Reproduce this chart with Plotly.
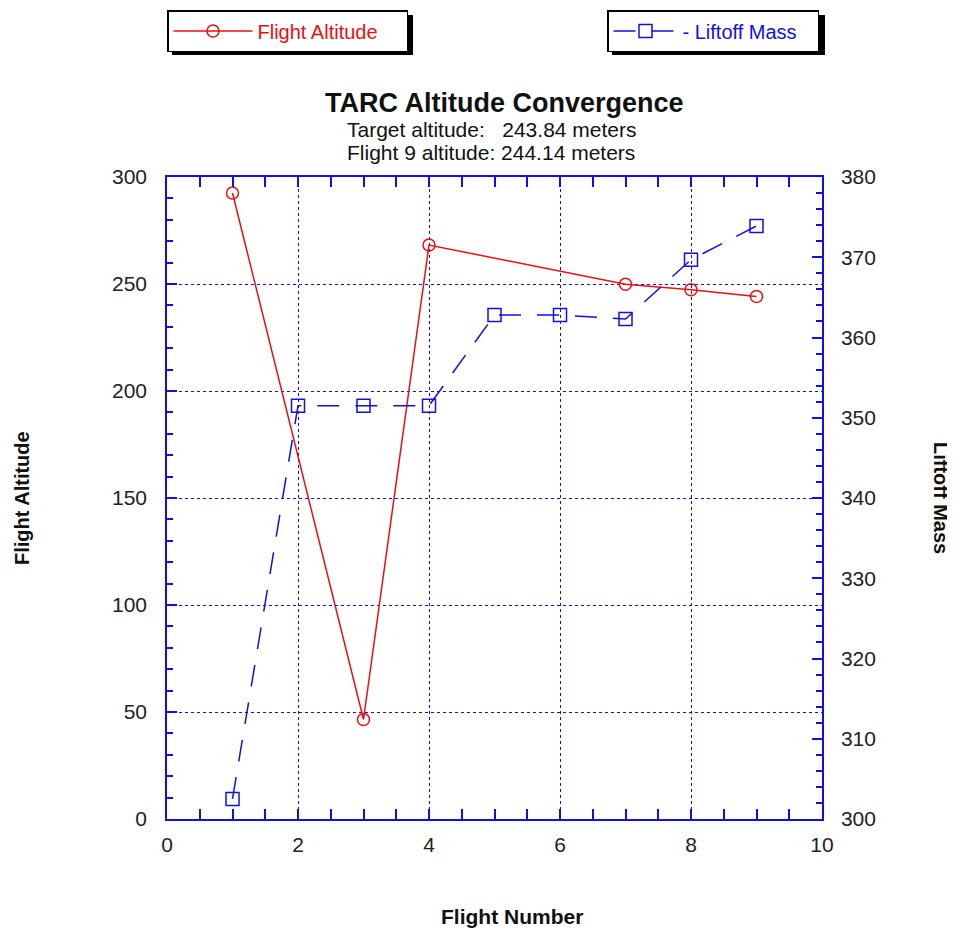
import plotly.graph_objects as go

# Data
alt_flights = [1, 3, 4, 7, 8, 9]
altitude = [292.5, 46.5, 268.2, 249.9, 247.3, 244.14]
mass_flights = [1, 2, 3, 4, 5, 6, 7, 8, 9]
liftoff_mass = [302.5, 351.5, 351.5, 351.5, 362.8, 362.8, 362.3, 369.7, 373.9]

OFF = 8  # page body margin offset
W, H = 955 - OFF, 928 - OFF
# plot area in page pixels
PL, PR, PT, PB = 167, 822, 177, 819
BLUE = "#1010e0"
RED = "#e81010"
FONT = "Liberation Sans, Arial, Helvetica, sans-serif"


def pp(x, y):
    """page pixel -> paper coords"""
    return (x - PL) / (PR - PL), (PB - y) / (PB - PT)


fig = go.Figure()
fig.add_trace(go.Scatter(
    x=alt_flights, y=altitude, name="Flight Altitude", mode="lines+markers",
    line=dict(color=RED, width=1.5),
    marker=dict(symbol="circle-open", size=12, color=RED, line=dict(width=1.5)),
    legend="legend"))
fig.add_trace(go.Scatter(
    x=mass_flights, y=liftoff_mass, name="- Liftoff Mass", mode="lines+markers",
    line=dict(color=BLUE, width=1.5, dash="22px,16px"),
    marker=dict(symbol="square-open", size=13, color=BLUE, line=dict(width=1.5)),
    yaxis="y2", legend="legend2"))

shapes = []
for (x0, y0, x1, y1) in [(167, 10, 408, 50), (607, 10, 820, 50)]:
    a0, b0 = pp(x0 + 5, y1 + 5)
    a1, b1 = pp(x1 + 5, y0 + 5)
    shapes.append(dict(type="rect", xref="paper", yref="paper", x0=a0, x1=a1, y0=b0, y1=b1,
                       fillcolor="black", line=dict(width=0), layer="above"))

tickfont = dict(family=FONT, size=21, color="#222")
minor_common = dict(ticks="inside", ticklen=6, tickcolor=BLUE, tickwidth=1.5, showgrid=False)


def annot(text, x, y, size, angle=0, bold=False, anchor="center"):
    ax, ay = pp(x, y)
    return dict(text=f"<b>{text}</b>" if bold else text, xref="paper", yref="paper",
                x=ax, y=ay, showarrow=False, textangle=angle,
                font=dict(family=FONT, size=size, color="#111"),
                xanchor=anchor, yanchor="middle")


fig.update_layout(
    width=W, height=H,
    margin=dict(l=PL - OFF, r=W - (PR - OFF), t=PT - OFF, b=H - (PB - OFF), pad=0),
    paper_bgcolor="white", plot_bgcolor="white",
    showlegend=True,
    font=dict(family=FONT),
    xaxis=dict(range=[0, 10], dtick=2, tick0=0, showline=True, linecolor=BLUE, linewidth=1.5,
               mirror="allticks", ticks="inside", ticklen=10, tickcolor=BLUE, tickwidth=1.5,
               showgrid=True, gridcolor=BLUE, griddash="dot", gridwidth=1,
               zeroline=False, tickfont=tickfont, ticklabelstandoff=6,
               minor=dict(dtick=0.5, **minor_common)),
    yaxis=dict(range=[0, 300], dtick=50, tick0=0, showline=True, linecolor=BLUE, linewidth=1.5,
               mirror=False, ticks="inside", ticklen=10, tickcolor=BLUE, tickwidth=1.5,
               showgrid=True, gridcolor=BLUE, griddash="dot", gridwidth=1,
               zeroline=False, tickfont=tickfont, ticklabelstandoff=14,
               minor=dict(dtick=10, **minor_common)),
    yaxis2=dict(range=[300, 380], dtick=10, tick0=300, overlaying="y", side="right",
                showline=True, linecolor=BLUE, linewidth=1.5,
                ticks="inside", ticklen=10, tickcolor=BLUE, tickwidth=1.5,
                showgrid=False, zeroline=False, tickfont=tickfont, ticklabelstandoff=13,
                minor=dict(dtick=2, **minor_common)),
    legend=dict(xref="container", yref="container", x=(167 - OFF) / W, y=1 - (10 - OFF) / H,
                xanchor="left", yanchor="top", orientation="h", entrywidth=144, itemwidth=79,
                bgcolor="white", bordercolor="black", borderwidth=1.5,
                font=dict(family=FONT, size=20, color=RED)),
    legend2=dict(xref="container", yref="container", x=(607 - OFF) / W, y=1 - (10 - OFF) / H,
                 xanchor="left", yanchor="top", orientation="h", entrywidth=130, itemwidth=64,
                 bgcolor="white", bordercolor="black", borderwidth=1.5,
                 font=dict(family=FONT, size=20, color=BLUE)),
    shapes=shapes,
    annotations=[
        annot("TARC Altitude Convergence", 505, 103, 27, bold=True),
        annot("Target altitude:   243.84 meters", 345, 129, 21, anchor="left"),
        annot("Flight 9 altitude: 244.14 meters", 345, 152, 21, anchor="left"),
        annot("Flight Number", 512, 916, 21, bold=True),
        annot("Flight Altitude", 22, 498, 20, angle=-90, bold=True),
        annot("Liftoff Mass", 941, 498, 20, angle=90, bold=True),
    ],
)

fig.write_html("out.html")
